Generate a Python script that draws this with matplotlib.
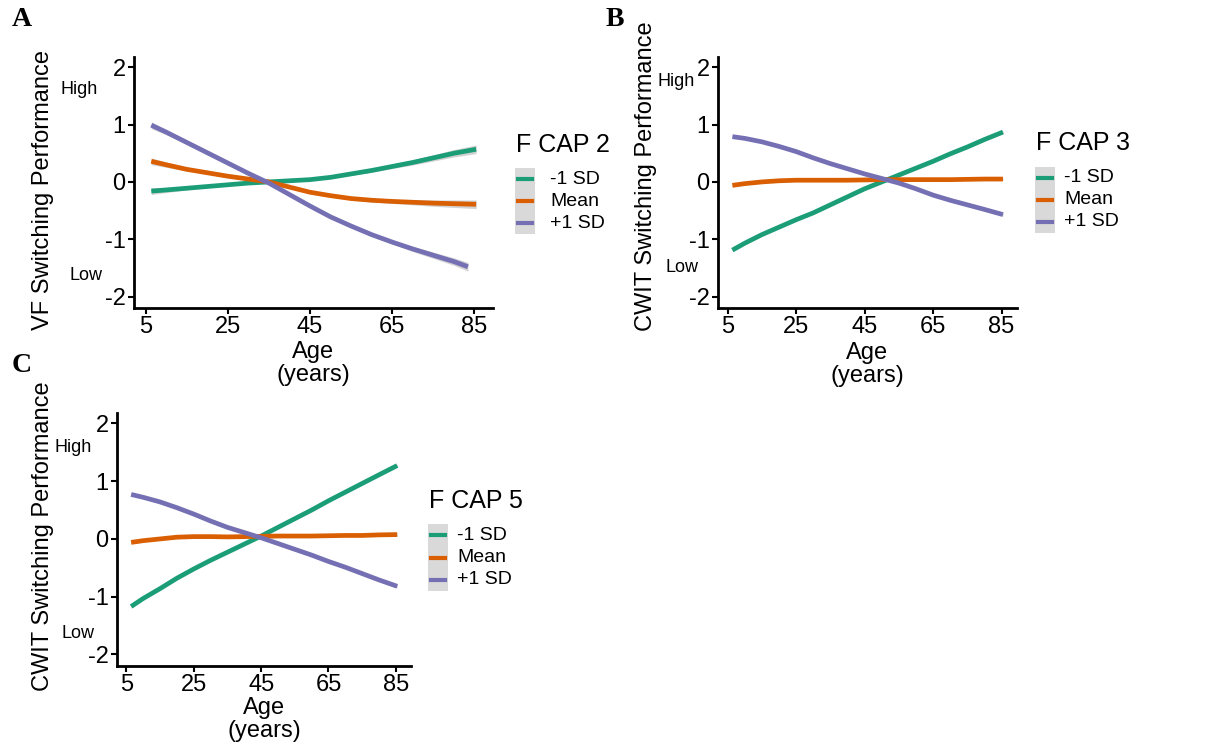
import matplotlib
matplotlib.use("Agg")
import matplotlib.pyplot as plt
from matplotlib.patches import Rectangle
from matplotlib.lines import Line2D

plt.rcParams['font.family'] = ['Liberation Sans', 'DejaVu Sans']
plt.rcParams['axes.unicode_minus'] = False

W, H = 1228, 746

# ---- data ----
ages = [6.4, 10, 15, 20, 25, 30, 35, 40, 45, 50, 55, 60, 65, 70, 75, 80, 85.4]
ages_short = [6.4, 10, 15, 20, 25, 30, 35, 40, 45, 50, 55, 60, 65, 70, 75, 80, 83.4]

a_low = [-0.16, -0.14, -0.11, -0.08, -0.05, -0.02, 0.0, 0.02, 0.04, 0.08, 0.14, 0.20, 0.27, 0.34, 0.42, 0.50, 0.57]
a_mean = [0.36, 0.30, 0.22, 0.16, 0.10, 0.05, 0.0, -0.09, -0.18, -0.24, -0.29, -0.32, -0.34, -0.355, -0.37, -0.38, -0.39]
a_high = [0.99, 0.87, 0.69, 0.51, 0.33, 0.15, -0.02, -0.22, -0.42, -0.61, -0.77, -0.92, -1.05, -1.17, -1.28, -1.39, -1.48]
a_se = [0.06, 0.045, 0.03, 0.02, 0.015, 0.012, 0.012, 0.012, 0.015, 0.02, 0.025, 0.03, 0.035, 0.045, 0.055, 0.065, 0.075]

b_low = [-1.19, -1.07, -0.92, -0.79, -0.66, -0.54, -0.40, -0.26, -0.12, 0.0, 0.12, 0.24, 0.36, 0.49, 0.61, 0.74, 0.87]
b_mean = [-0.06, -0.03, 0.0, 0.02, 0.03, 0.03, 0.03, 0.03, 0.035, 0.04, 0.04, 0.04, 0.04, 0.04, 0.045, 0.05, 0.05]
b_high = [0.79, 0.76, 0.70, 0.62, 0.53, 0.42, 0.32, 0.23, 0.14, 0.06, -0.02, -0.12, -0.23, -0.32, -0.40, -0.48, -0.57]

c_low = [-1.17, -1.03, -0.86, -0.68, -0.52, -0.37, -0.23, -0.09, 0.05, 0.20, 0.35, 0.50, 0.66, 0.81, 0.96, 1.11, 1.27]
c_mean = [-0.06, -0.03, 0.0, 0.03, 0.04, 0.04, 0.035, 0.04, 0.045, 0.05, 0.05, 0.05, 0.055, 0.06, 0.06, 0.07, 0.075]
c_high = [0.77, 0.72, 0.64, 0.54, 0.43, 0.31, 0.20, 0.11, 0.02, -0.08, -0.18, -0.28, -0.39, -0.49, -0.60, -0.71, -0.82]
bc_se = [0.025, 0.02, 0.015, 0.012, 0.01, 0.01, 0.01, 0.01, 0.01, 0.01, 0.01, 0.01, 0.012, 0.015, 0.018, 0.022, 0.025]

groups = ['-1 SD', 'Mean', '+1 SD']
colors = ['#1B9E77', '#D95F02', '#7570B3']
xticks = [5, 25, 45, 65, 85]
yticks = [-2, -1, 0, 1, 2]


def px(x, y):
    return x / W, 1 - y / H


def rect(l, t, r, b):
    return [l / W, 1 - b / H, (r - l) / W, (b - t) / H]


def panel(ax, series, xs_list, se):
    for (ys, xs, col) in zip(series, xs_list, colors):
        lo = [y - s for y, s in zip(ys, se)]
        hi = [y + s for y, s in zip(ys, se)]
        ax.fill_between(xs, lo, hi, color='#BEBEBE', alpha=0.7, lw=0, zorder=1)
        ax.plot(xs, ys, color=col, lw=3.4, solid_capstyle='butt', zorder=2)
    ax.set_xlim(2.2, 89.5)
    ax.set_ylim(-2.2, 2.18)
    ax.set_xticks(xticks)
    ax.set_yticks(yticks)
    for s in ['top', 'right']:
        ax.spines[s].set_visible(False)
    for s in ['left', 'bottom']:
        ax.spines[s].set_linewidth(2)
    ax.tick_params(length=4, width=1.5, labelsize=17, pad=2)


def legend(title, left, ty, keys_y, text_x):
    fig.text(*px(left, ty), title, fontsize=18, va='center', ha='left')
    fig.add_artist(Rectangle(px(left - 1, keys_y[-1] + 11), 20 / W, (keys_y[-1] - keys_y[0] + 22) / H,
                             transform=fig.transFigure, color='#D9D9D9', lw=0))
    for ky, g, c in zip(keys_y, groups, colors):
        fig.add_artist(Line2D([(left + 2) / W, (left + 16) / W], [1 - ky / H] * 2,
                              transform=fig.transFigure, color=c, lw=3))
        fig.text(*px(text_x, ky), g, fontsize=14, va='center', ha='left')


fig = plt.figure(figsize=(W / 100, H / 100), dpi=100)

# Panel A
axA = fig.add_axes(rect(134, 57, 493, 308))
panel(axA, [a_low, a_mean, a_high], [ages, ages, ages_short], a_se)
# Panel B
axB = fig.add_axes(rect(718, 57, 1017, 308))
panel(axB, [b_low, b_mean, b_high], [ages, ages, ages], bc_se)
# Panel C
axC = fig.add_axes(rect(117, 413, 411, 666))
panel(axC, [c_low, c_mean, c_high], [ages, ages, ages], bc_se)

# axis titles
fig.text(*px(43, 190), 'VF Switching Performance', rotation=90, fontsize=17, ha='center', va='center')
fig.text(*px(646, 176), 'CWIT Switching Performance', rotation=90, fontsize=17, ha='center', va='center')
fig.text(*px(43, 536), 'CWIT Switching Performance', rotation=90, fontsize=17, ha='center', va='center')

for (cx, ya, yy) in [(313, 352, 375), (867, 353, 376), (264, 708, 731)]:
    fig.text(*px(cx, ya), 'Age', fontsize=17, ha='center', va='center')
    fig.text(*px(cx, yy), '(years)', fontsize=17, ha='center', va='center')

# High / Low annotations
for (hx, hy, lx, ly) in [(79, 89, 86, 275), (676, 81, 682, 267), (73, 448, 78, 634)]:
    fig.text(*px(hx, hy), 'High', fontsize=13, ha='center', va='center')
    fig.text(*px(lx, ly), 'Low', fontsize=13, ha='center', va='center')

# legends
legend('F CAP 2', 516, 145, [179, 201, 223], 550)
legend('F CAP 3', 1036, 143, [178, 200, 222], 1064)
legend('F CAP 5', 429, 501, [535, 558, 580], 457)

# panel letters
for (lx, ly, t) in [(22, 20, 'A'), (615, 20, 'B'), (22, 365, 'C')]:
    fig.text(*px(lx, ly), t, fontsize=20, fontweight='bold', family='Liberation Serif',
             ha='center', va='center')

fig.savefig('out.png', dpi=100)
